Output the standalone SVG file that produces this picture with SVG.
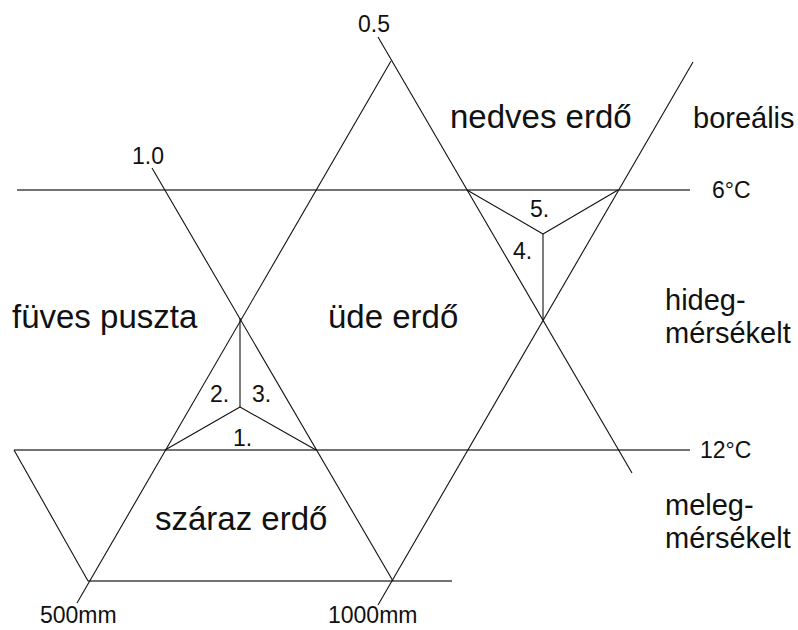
<svg xmlns="http://www.w3.org/2000/svg" width="798" height="630" viewBox="0 0 798 630">
<style>
.h{stroke:#444;stroke-width:1.6;fill:none}
.d{stroke:#111;stroke-width:1.1;fill:none}
text{font-family:"Liberation Sans",Arial,sans-serif;fill:#111}
.big{font-size:33px}
.mid{font-size:29px}
.sm{font-size:23px}
</style>
<rect width="798" height="630" fill="#fff"/>
<g id="connectors">
<line class="h" x1="17" y1="190" x2="690" y2="190"/>
<line class="h" x1="14" y1="450" x2="690" y2="450"/>
<line class="h" x1="88" y1="581" x2="452" y2="581"/>
<line class="d" x1="378" y1="37" x2="632" y2="473"/>
<line class="d" x1="391" y1="61" x2="77" y2="603"/>
<line class="d" x1="152" y1="168" x2="393" y2="581"/>
<line class="d" x1="378" y1="605" x2="693" y2="62"/>
<line class="d" x1="14" y1="450" x2="88" y2="581"/>
<line class="d" x1="240" y1="318" x2="240" y2="407"/>
<line class="d" x1="165" y1="450" x2="240" y2="407"/>
<line class="d" x1="316" y1="450" x2="240" y2="407"/>
<line class="d" x1="543" y1="320" x2="543" y2="234"/>
<line class="d" x1="467" y1="190" x2="543" y2="234"/>
<line class="d" x1="618" y1="190" x2="543" y2="234"/>
</g>
<g id="labels">
<text class="sm" x="358" y="32">0.5</text>
<text class="sm" x="132" y="164">1.0</text>
<text class="big" x="450" y="128">nedves erdő</text>
<text class="mid" x="693" y="128">boreális</text>
<text class="sm" x="712" y="198">6°C</text>
<text class="big" x="12" y="328">füves puszta</text>
<text class="big" x="328" y="328">üde erdő</text>
<text class="mid" x="665" y="310">hideg-</text>
<text class="mid" x="665" y="343">mérsékelt</text>
<text class="sm" x="700" y="458">12°C</text>
<text class="mid" x="665" y="515">meleg-</text>
<text class="mid" x="665" y="548">mérsékelt</text>
<text class="big" x="155" y="530">száraz erdő</text>
<text class="sm" x="40" y="623">500mm</text>
<text class="sm" x="328" y="623">1000mm</text>
<text class="sm" x="210" y="402">2.</text>
<text class="sm" x="252" y="402">3.</text>
<text class="sm" x="233" y="446">1.</text>
<text class="sm" x="530" y="217">5.</text>
<text class="sm" x="513" y="259">4.</text>
</g>
</svg>
